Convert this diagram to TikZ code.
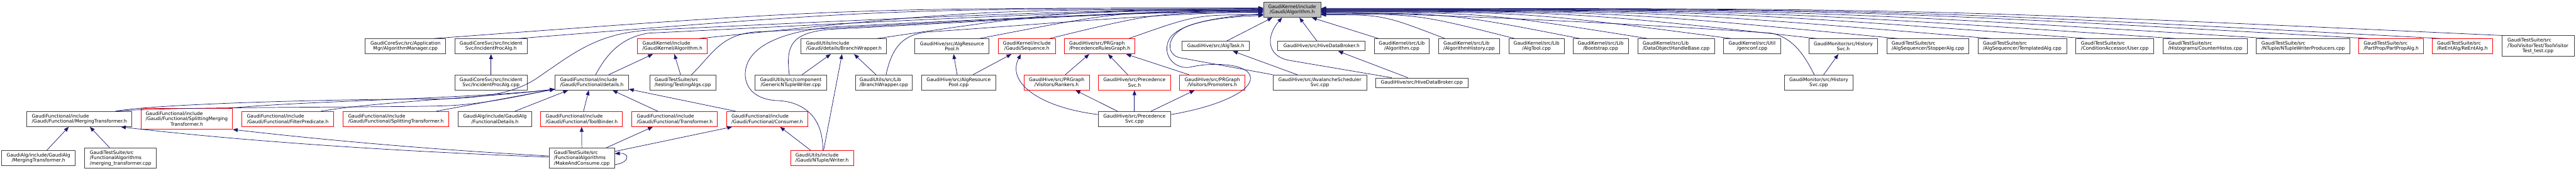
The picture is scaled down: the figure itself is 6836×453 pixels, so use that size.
\documentclass[tikz,border=0pt]{standalone}
\usepackage{fontspec}
\setmainfont{DejaVu Sans}
\usetikzlibrary{arrows.meta,calc}
\definecolor{edgecol}{HTML}{191970}
\definecolor{boxcol}{HTML}{404040}
\definecolor{rootfill}{HTML}{BFBFBF}
\definecolor{trunccol}{HTML}{FF0000}
\tikzset{
  box/.style={draw=boxcol,line width=1.5pt,fill=white,inner sep=0pt,text=black,font=\fontsize{12.6}{14}\selectfont},
  trunc/.style={draw=trunccol},
  lft/.style={align=left},
  ctr/.style={align=center},
  edge/.style={draw=edgecol,line width=1.2pt,-{Triangle[length=13pt,width=10pt]}},
}
\newcommand\nd[7]{\node[box,#6,minimum width={(#3-#2)*1pt},minimum height={(#5-#4)*1pt}] (#1) at ({(#2+#3)/2},{(#4+#5)/2}) {#7};}
\newcommand\qe[3]{\path ($(#1.north)+(#2,0)$) coordinate (qs);
  \path ($(qs)!0.5!(#3)$) coordinate (qm);
  \draw[edge] (qs) .. controls (qm |- #3) .. (#3);}
\begin{document}
\begin{tikzpicture}[x=1pt,y=-1pt]
\useasboundingbox[fill=white] (0,0) rectangle (6836,453);
% row 1
\nd{root}{3353}{3505}{6}{46}{fill=rootfill,ctr}{GaudiKernel/include\\/Gaudi/Algorithm.h}
% row 2
\nd{AlgMgr}{969}{1183}{103}{143}{ctr}{GaudiCoreSvc/src/Application\\Mgr/AlgorithmManager.cpp}
\nd{IncProcH}{1207}{1399}{103}{143}{ctr}{GaudiCoreSvc/src/Incident\\Svc/IncidentProcAlg.h}
\nd{KAlgH}{1692}{1877}{103}{143}{trunc,lft}{GaudiKernel/include\\/GaudiKernel/Algorithm.h}
\nd{BWH}{2126}{2353}{103}{143}{lft}{GaudiUtils/include\\/Gaudi/details/BranchWrapper.h}
\nd{ARPH}{2428}{2625}{103}{143}{ctr}{GaudiHive/src/AlgResource\\Pool.h}
\nd{SeqH}{2649}{2801}{103}{143}{trunc,ctr}{GaudiKernel/include\\/Gaudi/Sequence.h}
\nd{PRG}{2825}{3012}{103}{143}{trunc,lft}{GaudiHive/src/PRGraph\\/PrecedenceRulesGraph.h}
\nd{AlgTask}{3137}{3316}{110}{135}{ctr}{GaudiHive/src/AlgTask.h}
\nd{HiveDBH}{3391}{3623}{110}{135}{ctr}{GaudiHive/src/HiveDataBroker.h}
\nd{AlgCpp}{3647}{3793}{103}{143}{ctr}{GaudiKernel/src/Lib\\/Algorithm.cpp}
\nd{AlgHistCpp}{3817}{3980}{103}{143}{lft}{GaudiKernel/src/Lib\\/AlgorithmHistory.cpp}
\nd{AlgToolCpp}{4004}{4151}{103}{143}{ctr}{GaudiKernel/src/Lib\\/AlgTool.cpp}
\nd{BootCpp}{4174}{4321}{103}{143}{ctr}{GaudiKernel/src/Lib\\/Bootstrap.cpp}
\nd{DOHB}{4346}{4550}{103}{143}{lft}{GaudiKernel/src/Lib\\/DataObjectHandleBase.cpp}
\nd{genconf}{4574}{4725}{103}{143}{ctr}{GaudiKernel/src/Util\\/genconf.cpp}
\nd{HistSvcH}{4800}{4983}{103}{143}{ctr}{GaudiMonitor/src/History\\Svc.h}
\nd{Stopper}{5007}{5225}{103}{143}{lft}{GaudiTestSuite/src\\/AlgSequencer/StopperAlg.cpp}
\nd{Templated}{5249}{5484}{103}{143}{lft}{GaudiTestSuite/src\\/AlgSequencer/TemplatedAlg.cpp}
\nd{User}{5509}{5715}{103}{143}{lft}{GaudiTestSuite/src\\/ConditionAccessor/User.cpp}
\nd{CntHist}{5740}{5964}{103}{143}{lft}{GaudiTestSuite/src\\/Histograms/CounterHistos.cpp}
\nd{NTWP}{5988}{6236}{103}{143}{lft}{GaudiTestSuite/src\\/NTuple/NTupleWriterProducers.cpp}
\nd{PartProp}{6260}{6431}{103}{143}{trunc,lft}{GaudiTestSuite/src\\/PartProp/PartPropAlg.h}
\nd{ReEnt}{6455}{6614}{103}{143}{trunc,lft}{GaudiTestSuite/src\\/ReEntAlg/ReEntAlg.h}
\nd{ToolVis}{6639}{6831}{95}{150}{lft}{GaudiTestSuite/src\\/ToolVisitorTest/ToolVisitor\\\null\hfill Test\_test.cpp\hfill\null}
% row 3
\nd{IncProcCpp}{1207}{1399}{199}{239}{ctr}{GaudiCoreSvc/src/Incident\\Svc/IncidentProcAlg.cpp}
\nd{details}{1473}{1668}{199}{239}{lft}{GaudiFunctional/include\\/Gaudi/Functional/details.h}
\nd{TestingAlgs}{1724}{1900}{199}{239}{lft}{GaudiTestSuite/src\\/testing/TestingAlgs.cpp}
\nd{GenNT}{2003}{2194}{199}{239}{ctr}{GaudiUtils/src/component\\/GenericNTupleWriter.cpp}
\nd{BWCpp}{2270}{2421}{199}{239}{lft}{GaudiUtils/src/Lib\\/BranchWrapper.cpp}
\nd{ARPCpp}{2445}{2643}{199}{239}{ctr}{GaudiHive/src/AlgResource\\Pool.cpp}
\nd{Rankers}{2717}{2891}{199}{239}{trunc,ctr}{GaudiHive/src/PRGraph\\/Visitors/Rankers.h}
\nd{PrecSvcH}{2914}{3107}{199}{239}{trunc,ctr}{GaudiHive/src/Precedence\\Svc.h}
\nd{Promoters}{3130}{3304}{199}{239}{trunc,ctr}{GaudiHive/src/PRGraph\\/Visitors/Promoters.h}
\nd{Avalanche}{3378}{3627}{199}{239}{ctr}{GaudiHive/src/AvalancheScheduler\\Svc.cpp}
\nd{HiveDBCpp}{3650}{3896}{207}{232}{ctr}{GaudiHive/src/HiveDataBroker.cpp}
\nd{HistSvcCpp}{4735}{4918}{199}{239}{ctr}{GaudiMonitor/src/History\\Svc.cpp}
% row 4
\nd{FMT}{71}{350}{296}{336}{lft}{GaudiFunctional/include\\/Gaudi/Functional/MergingTransformer.h}
\nd{SplitMerge}{374}{617}{288}{343}{trunc,lft}{GaudiFunctional/include\\/Gaudi/Functional/SplittingMerging\\\null\hfill Transformer.h\hfill\null}
\nd{FilterPred}{642}{885}{296}{336}{trunc,lft}{GaudiFunctional/include\\/Gaudi/Functional/FilterPredicate.h}
\nd{SplitT}{910}{1191}{296}{336}{trunc,lft}{GaudiFunctional/include\\/Gaudi/Functional/SplittingTransformer.h}
\nd{FuncDetails}{1216}{1411}{296}{336}{ctr}{GaudiAlg/include/GaudiAlg\\/FunctionalDetails.h}
\nd{ToolBinder}{1435}{1652}{296}{336}{trunc,lft}{GaudiFunctional/include\\/Gaudi/Functional/ToolBinder.h}
\nd{Transformer}{1677}{1904}{296}{336}{trunc,lft}{GaudiFunctional/include\\/Gaudi/Functional/Transformer.h}
\nd{Consumer}{1929}{2143}{296}{336}{trunc,lft}{GaudiFunctional/include\\/Gaudi/Functional/Consumer.h}
\nd{PrecSvcCpp}{2914}{3107}{296}{336}{ctr}{GaudiHive/src/Precedence\\Svc.cpp}
% row 5
\nd{AlgMerging}{4}{200}{400}{440}{ctr}{GaudiAlg/include/GaudiAlg\\/MergingTransformer.h}
\nd{mergingCpp}{225}{415}{393}{447}{lft}{GaudiTestSuite/src\\/FunctionalAlgorithms\\/merging\_transformer.cpp}
\nd{MakeCons}{1457}{1631}{393}{447}{lft}{GaudiTestSuite/src\\/FunctionalAlgorithms\\/MakeAndConsume.cpp}
\nd{NTWriter}{2098}{2265}{400}{440}{trunc,lft}{GaudiUtils/include\\/Gaudi/NTuple/Writer.h}
% connection points
\foreach \k in {20,...,46}{
  \coordinate (rl\k) at ($(root.north west)+(0,{\k-6})$);
  \coordinate (rr\k) at ($(root.north east)+(0,{\k-6})$);
}
\coordinate (rbA) at ($(root.south west)+(24,0)$);
\coordinate (rbB) at ($(root.south west)+(50,0)$);
\coordinate (rbC) at ($(root.south west)+(96,0)$);
\coordinate (rbD) at ($(root.south west)+(129,0)$);
\coordinate (dL) at ($(details.south west)+(0,-3)$);
\coordinate (dR) at ($(details.south east)+(0,-3)$);
% row 2 -> root, left side
\qe{AlgMgr}{75}{rl22}
\qe{IncProcH}{73}{rl24}
\qe{KAlgH}{70}{rl26}
\qe{BWH}{88}{rl28}
\qe{ARPH}{73}{rl30}
\qe{SeqH}{60}{rl34}
\qe{PRG}{77}{rl40}
% row 2 -> root, right side
\qe{AlgHistCpp}{-64}{rr40}
\qe{AlgToolCpp}{-58}{rr38}
\qe{BootCpp}{-55}{rr36}
\qe{DOHB}{-76}{rr34}
\qe{genconf}{-56}{rr32}
\qe{HistSvcH}{-71}{rr31}
\qe{Stopper}{-80}{rr30}
\qe{Templated}{-83}{rr29}
\qe{User}{-75}{rr28}
\qe{CntHist}{-79}{rr27}
\qe{NTWP}{-87}{rr26}
\qe{PartProp}{-61}{rr25}
\qe{ReEnt}{-57}{rr24}
\qe{ToolVis}{-94}{rr23}
\draw[edge] ($(AlgCpp.north)+(-62,0)$) -- (rbD);
\draw[edge] ($(AlgTask.north)+(28,0)$) -- (rbA);
\draw[edge] ($(HiveDBH.north)+(-12,0)$) -- (rbC);
% long curves to root
\draw[edge] ($(details.north)+(10,0)$) .. controls (1612,140) and (1650,100) .. (1720,88) .. controls (2300,60) and (2900,26) .. (rl25);
\draw[edge] ($(TestingAlgs.north)+(23,0)$) .. controls (1890,145) and (1910,95) .. (2000,85) .. controls (2500,62) and (3000,28) .. (rl27);
\draw[edge] ($(GenNT.north)+(-4,0)$) .. controls (2085,120) and (2100,88) .. (2200,78) .. controls (2600,58) and (3000,30) .. (rl29);
\draw[edge] ($(BWCpp.north)+(6,0)$) .. controls (2368,120) and (2400,92) .. (2460,85) .. controls (2800,62) and (3100,34) .. (rl33);
\draw[edge] ($(NTWriter.north)+(2,0)$) .. controls (2185,300) and (2120,268) .. (2060,267) .. controls (1990,262) and (1975,220) .. (1978,190) .. controls (1985,120) and (2080,85) .. (2200,72) .. controls (2600,52) and (3000,32) .. (rl31);
\draw[edge] ($(FMT.north)+(96,0)$) .. controls (420,275) and (900,263) .. (1140,263) .. controls (1380,262) and (1410,215) .. (1465,180) .. controls (1550,120) and (1610,88) .. (1720,80) .. controls (2300,52) and (2900,24) .. (rl23);
\draw[edge] ($(PrecSvcCpp.east)+(0,-12)$) .. controls (3250,280) and (3345,230) .. (3312,192) .. controls (3285,165) and (3200,168) .. (3160,178) .. controls (3120,186) and (3085,150) .. (3100,110) .. controls (3115,70) and (3200,46) .. (rl42);
\draw[edge] (Avalanche.north west) -- (3130,153) .. controls (3095,145) and (3092,95) .. (3150,70) .. controls (3200,50) and (3290,40) .. (rl38);
\draw[edge] ($(HiveDBCpp.north)+(-80,0)$) -- (3420,160) .. controls (3360,148) and (3360,95) .. (rbB);
\draw[edge] ($(HistSvcCpp.north)+(-12,0)$) .. controls (4790,150) and (4760,100) .. (4700,88) .. controls (4300,60) and (3800,38) .. (rr33);
% lower edges
\draw[edge] (IncProcCpp.north) -- (IncProcH.south);
\draw[edge] ($(details.north)+(45,0)$) -- ($(KAlgH.south)+(-52,0)$);
\draw[edge] ($(TestingAlgs.north)+(-6,0)$) -- ($(KAlgH.south)+(5,0)$);
\draw[edge] ($(GenNT.north)+(30,0)$) -- ($(BWH.south)+(-35,0)$);
\draw[edge] ($(NTWriter.north)+(4,0)$) -- ($(BWH.south)+(-5,0)$);
\draw[edge] ($(BWCpp.north)+(-21,0)$) -- ($(BWH.south)+(27,0)$);
\draw[edge] ($(NTWriter.north)+(-30,0)$) -- ($(Consumer.south)+(34,0)$);
\draw[edge] ($(ARPCpp.north)+(-4,0)$) -- ($(ARPH.south)+(4,0)$);
\draw[edge] ($(ARPCpp.north)+(38,0)$) -- ($(SeqH.south)+(-41,0)$);
\draw[edge] ($(PrecSvcCpp.west)+(0,-12)$) .. controls (2760,285) and (2670,220) .. ($(SeqH.south)+(-16,0)$);
\draw[edge] ($(Rankers.north)+(23,0)$) -- ($(PRG.south)+(-28,0)$);
\draw[edge] ($(PrecSvcH.north)+(-18,0)$) -- ($(PRG.south)+(22,0)$);
\draw[edge] ($(Promoters.north)+(-62,0)$) -- ($(PRG.south)+(70,0)$);
\draw[edge] ($(PrecSvcCpp.north)+(-45,0)$) -- ($(Rankers.south)+(50,0)$);
\draw[edge] (PrecSvcCpp.north) -- (PrecSvcH.south);
\draw[edge] ($(PrecSvcCpp.north)+(44,0)$) -- ($(Promoters.south)+(-47,0)$);
\draw[edge] ($(Avalanche.north)+(-60,0)$) -- ($(AlgTask.south)+(45,0)$);
\draw[edge] ($(HiveDBCpp.north)+(-37,0)$) -- ($(HiveDBH.south)+(44,0)$);
\draw[edge] ($(HistSvcCpp.north)+(13,0)$) -- ($(HistSvcH.south)+(-13,0)$);
% into details
\draw[edge] ($(FMT.north)+(96,0)$) .. controls (450,282) and (1100,286) .. (1200,280) .. controls (1300,274) and (1400,250) .. (dL);
\draw[edge] ($(SplitMerge.north east)+(-8,0)$) .. controls (800,268) and (1250,262) .. (dL);
\draw[edge] ($(FilterPred.north)+(88,0)$) .. controls (1000,270) and (1300,258) .. (dL);
\draw[edge] ($(SplitT.north)+(107,0)$) -- (dL);
\draw[edge] ($(FuncDetails.north)+(53,0)$) -- ($(details.south)+(-63,0)$);
\draw[edge] ($(ToolBinder.north)+(5,0)$) -- ($(details.south)+(-8,0)$);
\draw[edge] ($(Transformer.north)+(-45,0)$) -- ($(details.south)+(55,0)$);
\draw[edge] ($(Consumer.north)+(-84,0)$) -- (dR);
% bottom row
\draw[edge] ($(AlgMerging.north)+(22,0)$) -- ($(FMT.south)+(-28,0)$);
\draw[edge] ($(mergingCpp.north)+(-29,0)$) -- ($(FMT.south)+(28,0)$);
\draw[edge] (MakeCons.north) -- (ToolBinder.south);
\draw[edge] ($(MakeCons.north)+(65,0)$) -- ($(Transformer.south)+(-58,0)$);
\draw[edge] ($(MakeCons.east)+(0,-18)$) -- ($(Consumer.south)+(-93,0)$);
\draw[edge] ($(MakeCons.west)+(0,-3)$) .. controls (1000,400) and (600,370) .. ($(FMT.south east)+(-30,0)$);
\draw[edge] ($(MakeCons.west)+(0,-6)$) .. controls (1100,395) and (800,365) .. (SplitMerge.south east);
\draw[edge] ($(MakeCons.east)+(0,17)$) .. controls (1672,432) and (1672,405) .. ($(MakeCons.east)+(0,-12)$);
\end{tikzpicture}
\end{document}
